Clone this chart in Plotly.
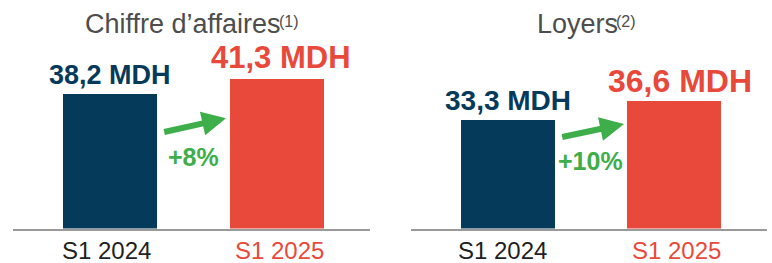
import plotly.graph_objects as go

# ---- data ----
categories = ["S1 2024", "S1 2025"]
ca_values = [38.2, 41.3]
loyers_values = [33.3, 36.6]
ca_labels = ["38,2 MDH", "41,3 MDH"]
loyers_labels = ["33,3 MDH", "36,6 MDH"]
growth_labels = ["+8%", "+10%"]
panel_titles = ["Chiffre d’affaires", "Loyers"]
title_notes = ["(1)", "(2)"]

# ---- style ----
W, H = 772, 263
NAVY = "#063A5B"
RED = "#E8493A"
GREEN = "#3DAE49"
bar_colors = [NAVY, RED]
FONT = "Liberation Sans, Arial, Helvetica, sans-serif"

fig = go.Figure()
fig.add_trace(go.Bar(x=categories, y=ca_values, marker_color=bar_colors,
                     marker_line_width=0, width=0.563, xaxis="x", yaxis="y",
                     hoverinfo="skip"))
fig.add_trace(go.Bar(x=categories, y=loyers_values, marker_color=bar_colors,
                     marker_line_width=0, width=0.567, xaxis="x2", yaxis="y2",
                     hoverinfo="skip"))

ydom = [34.5 / H, 1.0]
axis_common = dict(showgrid=False, zeroline=False, showticklabels=False,
                   ticks="", showline=True, linecolor="#9a9a9a", linewidth=2,
                   fixedrange=True)
fig.update_layout(
    xaxis=dict(domain=[13 / W, 370 / W], range=[-0.581, 1.557], anchor="y",
               **axis_common),
    yaxis=dict(domain=ydom, range=[10.41, 57.6], visible=False, anchor="x"),
    xaxis2=dict(domain=[411 / W, 767 / W], range=[-0.585, 1.563], anchor="y2",
                **axis_common),
    yaxis2=dict(domain=ydom, range=[14.46, 54.14], visible=False, anchor="x2"),
)

ann = []
# value labels
label_specs = [
    ("x", "y", ca_values, ca_labels, [27, 31], [18.5, 21.5], [0, 4]),
    ("x2", "y2", loyers_values, loyers_labels, [28, 32], [20, 20.5], [0, 6]),
]
for xr, yr, vals, labs, sizes, yshifts, xshifts in label_specs:
    for i, (c, v, t) in enumerate(zip(categories, vals, labs)):
        ann.append(dict(x=c, y=v, xref=xr, yref=yr, text=f"<b>{t}</b>",
                        showarrow=False, yanchor="middle", xanchor="center",
                        yshift=yshifts[i], xshift=xshifts[i],
                        font=dict(family=FONT, size=sizes[i], color=bar_colors[i])))

# category labels
tick_colors = ["#231F20", RED]
tick_shifts = [[-4, 3], [-5, 3]]
for k, xr in enumerate(["x", "x2"]):
    for i, c in enumerate(categories):
        ann.append(dict(x=c, y=1 - 250.4 / H, xref=xr, yref="paper", text=c,
                        showarrow=False, yanchor="middle", xanchor="center",
                        xshift=tick_shifts[k][i],
                        font=dict(family=FONT, size=24, color=tick_colors[i])))

# panel titles with small raised note markers
title_right = [283, 620]
for t, note, px in zip(panel_titles, title_notes, title_right):
    ann.append(dict(x=px / W, y=1 - 23.5 / H, xref="paper", yref="paper", text=t,
                    showarrow=False, yanchor="middle", xanchor="right",
                    font=dict(family=FONT, size=27, color="#4D4D4D")))
    ann.append(dict(x=(px - 6) / W, y=1 - 21 / H, xref="paper", yref="paper",
                    text=note, showarrow=False, yanchor="middle", xanchor="left",
                    font=dict(family=FONT, size=16, color="#4D4D4D")))

# growth labels and arrows
growth_y = [157, 161]
arrow_tips = [(226, 118.3), (624, 124)]
arrow_tails = [(162.7, 132.3), (560.7, 137.3)]
for k, xr in enumerate(["x", "x2"]):
    ann.append(dict(x=0.5, y=1 - growth_y[k] / H, xref=xr, yref="paper",
                    text=f"<b>{growth_labels[k]}</b>", showarrow=False,
                    yanchor="middle", xanchor="center",
                    font=dict(family=FONT, size=25, color=GREEN)))
    tx, ty = arrow_tips[k]
    sx, sy = arrow_tails[k]
    ann.append(dict(x=tx / W, y=1 - ty / H, xref="paper", yref="paper", text="",
                    showarrow=True, arrowhead=2, arrowsize=0.8, arrowwidth=6,
                    arrowcolor=GREEN, ax=sx - tx, ay=sy - ty, standoff=0,
                    startstandoff=0))

fig.update_layout(
    annotations=ann,
    width=W, height=H,
    margin=dict(l=0, r=0, t=0, b=0),
    paper_bgcolor="white", plot_bgcolor="white",
    showlegend=False, bargap=0,
    font=dict(family=FONT),
)

fig.write_html("out.html", config={"displayModeBar": False},
               post_script="document.body.style.margin='0';"
                           "document.body.style.overflow='hidden';")
